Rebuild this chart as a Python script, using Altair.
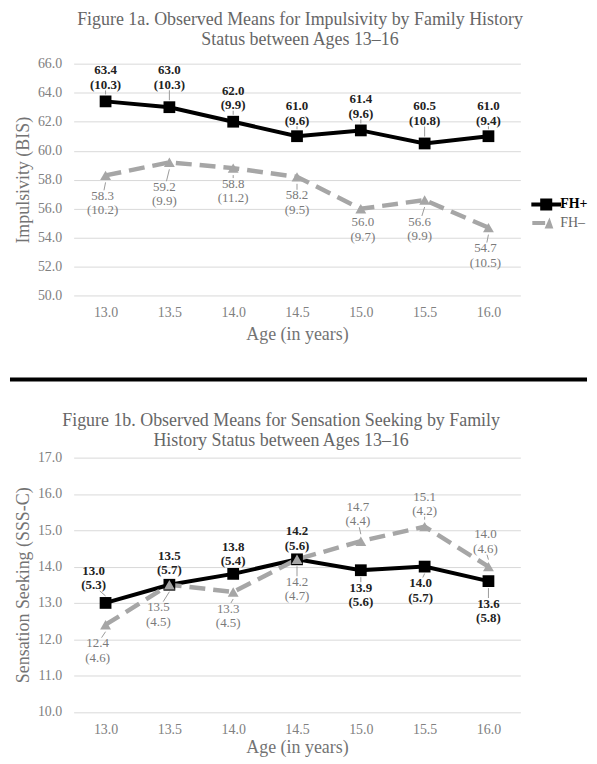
import altair as alt
import pandas as pd

# ---------------- data ----------------
ages = [13.0, 13.5, 14.0, 14.5, 15.0, 15.5, 16.0]
series_names = ["FH+", "FH–"]

imp_fh_pos = [63.4, 63.0, 62.0, 61.0, 61.4, 60.5, 61.0]
imp_fh_pos_sd = [10.3, 10.3, 9.9, 9.6, 9.6, 10.8, 9.4]
imp_fh_neg = [58.3, 59.2, 58.8, 58.2, 56.0, 56.6, 54.7]
imp_fh_neg_sd = [10.2, 9.9, 11.2, 9.5, 9.7, 9.9, 10.5]

ss_fh_pos = [13.0, 13.5, 13.8, 14.2, 13.9, 14.0, 13.6]
ss_fh_pos_sd = [5.3, 5.7, 5.4, 5.6, 5.6, 5.7, 5.8]
ss_fh_neg = [12.4, 13.5, 13.3, 14.2, 14.7, 15.1, 14.0]
ss_fh_neg_sd = [4.6, 4.5, 4.5, 4.7, 4.4, 4.2, 4.6]

imp_ticks = [50, 52, 54, 56, 58, 60, 62, 64, 66]
ss_ticks = [10, 11, 12, 13, 14, 15, 16, 17]

# label placement (pixel offsets of the two-line labels' centres)
imp_pos_dx = [0, 0, 0, 0, 0, 0, 0]
imp_pos_dy = [-24, -30, -24, -23, -24, -30, -23]
imp_neg_dx = [-3, -5, 0, 0, 2, -5, -3]
imp_neg_dy = [28, 32, 23, 26, 21, 29, 28]
ss_pos_dx = [-12, 0, 0, 0, 0, -4, 0]
ss_pos_dy = [-25, -22, -20, -21, 25, 24, 30]
ss_neg_dx = [-8, -11, -5, 0, -3, 0, -3]
ss_neg_dy = [26, 30, 24, 30, -27, -23, -25]

# ---------------- style ----------------
FONT = "Liberation Serif"
BLACK = "#000000"
GRAY = "#a6a6a6"
W = 449
XDOM = [12.75, 16.25]
LH = 14.5

SYM_POS = "M-1.36,-0.18H1.36V0.18H-1.36Z M-0.55,-0.55H0.55V0.55H-0.55Z"
SYM_NEG = "M-1.27,-0.18H-0.1V0.18H-1.27Z M-0.15,0.5L0.3,-0.5L0.65,0.5Z"


def panel(title, title_dx, title_offset, ytitle, ydom, yticks, pos, pos_sd, neg, neg_sd,
          pdx, pdy, ndx, ndy, height, xlab_pad, xtitle_pad, divider=False):
    ppu = height / (ydom[1] - ydom[0])
    ppx = W / (XDOM[1] - XDOM[0])
    rows = []
    for i, a in enumerate(ages):
        for s, vals, sds, dxs, dys in ((series_names[0], pos, pos_sd, pdx, pdy),
                                       (series_names[1], neg, neg_sd, ndx, ndy)):
            dy = dys[i]
            sgn = 1 if dy > 0 else -1
            gap = abs(dy) - 13 - 7
            rows.append(dict(age=a, series=s, value=vals[i],
                             t1=f"{vals[i]:.1f}", t2=f"({sds[i]:.1f})",
                             lx=a + dxs[i] / ppx,
                             ly1=vals[i] - (dy - LH / 2) / ppu,
                             ly2=vals[i] - (dy + LH / 2) / ppu,
                             lead=gap >= 3,
                             ry1=vals[i] - sgn * 7 / ppu,
                             ry2=vals[i] - sgn * (abs(dy) - 13) / ppu,
                             rx2=a + dxs[i] * (abs(dy) - 13) / abs(dy) / ppx))
    df = pd.DataFrame(rows)

    xscale = alt.Scale(domain=XDOM, nice=False, zero=False)
    yscale = alt.Scale(domain=ydom, nice=False, zero=False)
    xaxis = alt.Axis(values=ages, format=".1f", title="Age (in years)",
                     grid=False, domain=False, ticks=False, labelOverlap=False,
                     labelPadding=xlab_pad, titlePadding=xtitle_pad)
    yaxis = alt.Axis(values=yticks, format=".1f", title=ytitle,
                     grid=True, gridColor="#d9d9d9", gridWidth=1,
                     domain=False, ticks=False, labelPadding=12,
                     labelOverlap=False, titlePadding=5)
    x = alt.X("age:Q", scale=xscale, axis=xaxis)
    y = alt.Y("value:Q", scale=yscale, axis=yaxis)
    lx = alt.X("lx:Q", scale=xscale, axis=xaxis)
    ly1 = alt.Y("ly1:Q", scale=yscale, axis=yaxis)
    ly2 = alt.Y("ly2:Q", scale=yscale, axis=yaxis)

    base = alt.Chart(df)
    is_pos = alt.datum.series == series_names[0]
    is_neg = alt.datum.series == series_names[1]

    pos_line = base.transform_filter(is_pos).mark_line(
        color=BLACK, strokeWidth=4).encode(x=x, y=y)
    leaders = base.transform_filter(alt.datum.lead).mark_rule(
        color="#9a9a9a", strokeWidth=1).encode(
        x=x, y=alt.Y("ry1:Q", scale=yscale, axis=yaxis),
        x2="rx2:Q", y2="ry2:Q")
    pos_pts = base.transform_filter(is_pos).mark_point(
        shape="square", filled=True, color=BLACK, size=140, opacity=1).encode(x=x, y=y)
    neg_line = base.transform_filter(is_neg).mark_line(
        color=GRAY, strokeWidth=4.5, strokeDash=[16, 8]).encode(x=x, y=y)
    neg_pts = base.transform_filter(is_neg).mark_point(
        shape="triangle-up", filled=True, color=GRAY, size=120, opacity=1).encode(x=x, y=y)

    txt_layers = []
    for flt, style in ((is_pos, dict(fontWeight="bold", color="#222222")),
                       (is_neg, dict(fontWeight="normal", color="#7a7a7a"))):
        for yy, tt in ((ly1, "t1:N"), (ly2, "t2:N")):
            txt_layers.append(base.transform_filter(flt).mark_text(
                font=FONT, fontSize=13, baseline="middle", align="center", **style
            ).encode(x=lx, y=yy, text=tt))

    leg = alt.Legend(
        orient="none", legendX=464, legendY=130.5, title=None,
        symbolSize=484, symbolStrokeWidth=0, symbolOpacity=1,
        labelFont=FONT, labelFontSize=14, labelOffset=3, rowPadding=0.7,
        labelFontWeight=alt.ExprRef("datum.label === 'FH+' ? 'bold' : 'normal'"),
        labelColor=alt.ExprRef("datum.label === 'FH+' ? '#000000' : '#666666'"))
    legend_layer = base.mark_point(filled=True, opacity=0).encode(
        x=x, y=y,
        color=alt.Color("series:N", scale=alt.Scale(domain=series_names, range=[BLACK, GRAY]), legend=leg),
        shape=alt.Shape("series:N", scale=alt.Scale(domain=series_names, range=[SYM_POS, SYM_NEG]), legend=leg),
    )

    layers = [pos_line, leaders, neg_line, pos_pts, neg_pts] + txt_layers + [legend_layer]
    if divider:
        rule = alt.Chart(pd.DataFrame({"k": [0]})).mark_rule(
            color="black", strokeWidth=4).encode(
            x=alt.value(-64), x2=alt.value(516), y=alt.value(height + 84))
        layers.append(rule)

    return alt.layer(*layers).properties(
        width=W, height=height,
        title=alt.TitleParams(text=title, font=FONT, fontSize=18, fontWeight="normal",
                              color="#666666", lineHeight=20, anchor="middle",
                              dx=title_dx, offset=title_offset),
    )


top = panel(["Figure 1a. Observed Means for Impulsivity by Family History",
             "Status between Ages 13–16"], 3, 8,
            "Impulsivity (BIS)", [50, 66], imp_ticks,
            imp_fh_pos, imp_fh_pos_sd, imp_fh_neg, imp_fh_neg_sd,
            imp_pos_dx, imp_pos_dy, imp_neg_dx, imp_neg_dy, 233.4, 10, 6, divider=True)

bottom = panel(["Figure 1b. Observed Means for Sensation Seeking by Family",
                "History Status between Ages 13–16"], -16, 1,
               "Sensation Seeking (SSS-C)", [10, 17], ss_ticks,
               ss_fh_pos, ss_fh_pos_sd, ss_fh_neg, ss_fh_neg_sd,
               ss_pos_dx, ss_pos_dy, ss_neg_dx, ss_neg_dy, 255.6, 11, 2)

chart = alt.vconcat(top, bottom, spacing=30).properties(
    padding={"left": 0, "top": 1, "right": 0, "bottom": 0}
).configure_view(stroke=None).configure_axis(
    labelFont=FONT, labelFontSize=14, labelColor="#808080",
    titleFont=FONT, titleFontSize=18, titleFontWeight="normal", titleColor="#737373",
)

chart.save("out.html", embed_options={"renderer": "svg", "actions": False})
